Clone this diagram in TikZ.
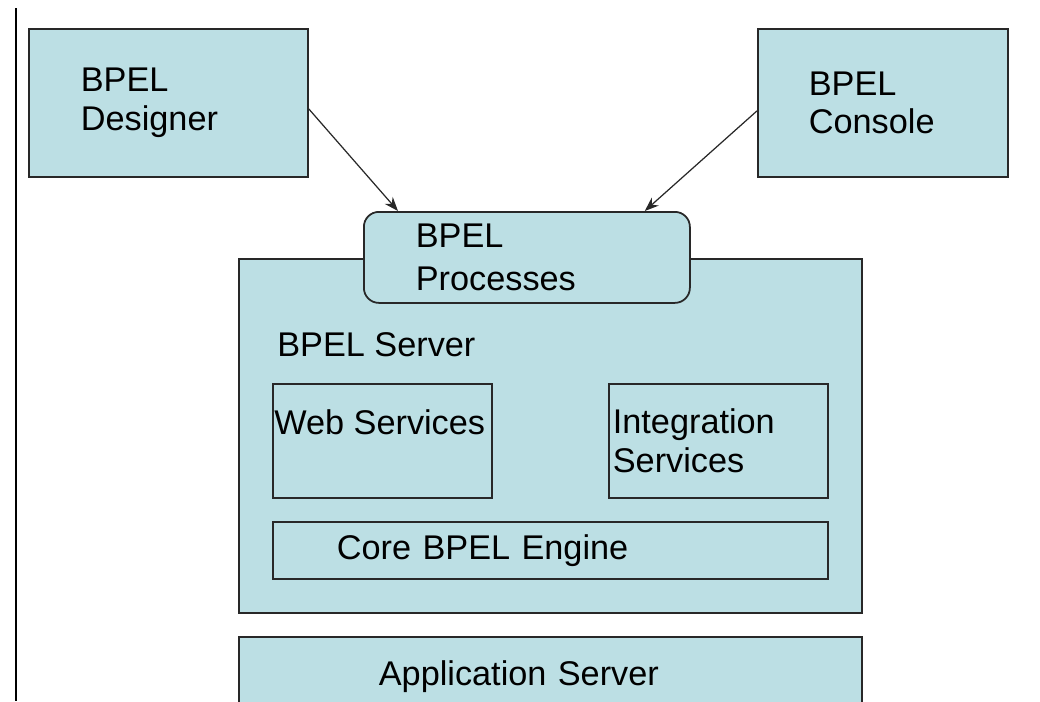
\documentclass[tikz,border=0pt]{standalone}
\usepackage{fontspec}
\setmainfont{Liberation Sans}
\usepackage{tikz}
\usetikzlibrary{arrows.meta,positioning}

\definecolor{bpelfill}{RGB}{188,223,228}
\definecolor{bpelline}{RGB}{40,40,40}

\tikzset{
    block/.style={draw=bpelline, fill=bpelfill, line width=1pt, anchor=north west,
        align=left, font=\fontsize{19.5}{22}\selectfont},
    caption/.style={anchor=west, inner sep=0pt, font=\fontsize{19.5}{22}\selectfont}
}

\begin{document}
\begin{tikzpicture}[>={Stealth[length=8pt,width=6pt]}]
        \useasboundingbox (0,0) rectangle (20.8,-14.02);
        % margin rule on the left
        \coordinate (rule_top) at (0.32,-0.16);
        \coordinate (rule_bot) at (0.32,-14.02);
        \draw[line width=0.8pt] (rule_top) -- (rule_bot);

        \node[block, minimum width=5.58cm, minimum height=2.96cm, inner xsep=1.04cm, text width=3.5cm]
            (designer) at (0.56,-0.56) {BPEL\\Designer};
        \node[block, minimum width=5.0cm, minimum height=2.96cm, inner xsep=1.02cm, text width=2.96cm]
            (console) at (15.14,-0.56) {BPEL\\Console};

        % server with its parts
        \node[block, minimum width=12.46cm, minimum height=7.08cm, inner sep=0pt] (server) at (4.76,-5.16) {};
        \node[caption] (server_lbl) at (5.54,-6.9) {BPEL Server};
        \node[block, rounded corners=0.3cm, minimum width=6.52cm, minimum height=1.82cm, inner xsep=1.04cm,
            text width=4.44cm, font=\fontsize{19.5}{24}\selectfont]
            (processes) at (7.26,-4.22) {BPEL\\Processes};
        \node[block, minimum width=4.38cm, minimum height=2.28cm, inner sep=0pt] (web) at (5.44,-7.66) {};
        \node[caption] (web_lbl) at (5.48,-8.44) {Web Services};
        \node[block, minimum width=4.38cm, minimum height=2.28cm, inner xsep=0.08cm, text width=4.22cm]
            (integration) at (12.16,-7.66) {Integration\\Services};
        \node[block, minimum width=11.1cm, minimum height=1.14cm, inner xsep=1.28cm, text width=8.54cm]
            (core) at (5.44,-10.42) {Core BPEL Engine};

        \node[block, minimum width=12.46cm, minimum height=1.58cm, inner xsep=2.8cm, text width=6.86cm]
            (appserver) at (4.76,-12.72) {Application Server};

        \path[->, color=bpelline, line width=0.7pt]
            ([yshift=-0.12cm]designer.east)
                edge ([xshift=0.7cm]processes.north west)
            ([yshift=-0.16cm]console.west)
                edge ([xshift=-0.92cm]processes.north east);
    \end{tikzpicture}
\end{document}
